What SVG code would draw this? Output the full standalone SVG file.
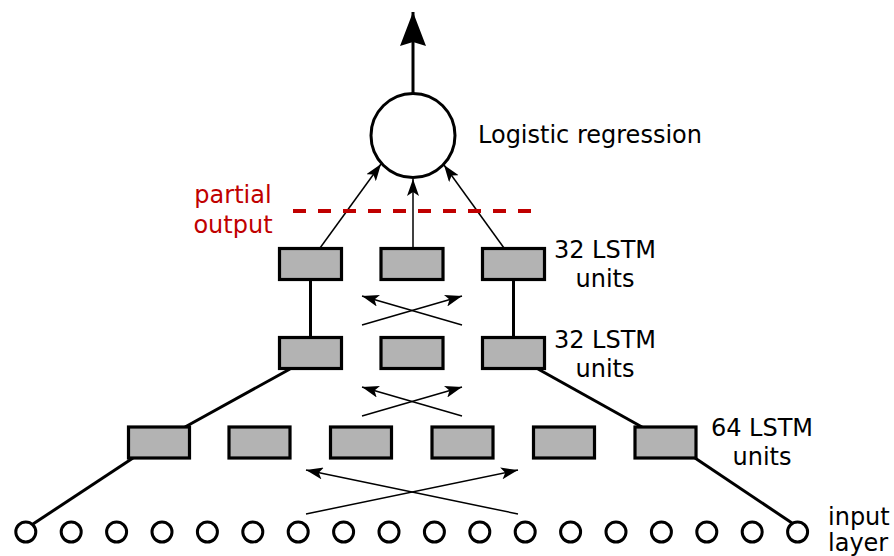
<svg xmlns="http://www.w3.org/2000/svg" width="894" height="556" viewBox="0 0 894 556">
  <style>
    .lbl { font-family: "DejaVu Sans", Verdana, sans-serif; font-size: 24px; fill: #000; }
    .red { fill: #c00000; }
    .cell { fill: #b3b3b3; stroke: #000; stroke-width: 3.2; }
    .inp { fill: #fff; stroke: #000; stroke-width: 3; }
    .thick { stroke: #000; stroke-width: 3; fill: none; }
    .thin { stroke: #000; stroke-width: 1.5; fill: none; marker-end: url(#tip); }
  </style>
  <defs>
    <marker id="tip" viewBox="0 0 17 12" refX="17" refY="6" markerWidth="17" markerHeight="12" markerUnits="userSpaceOnUse" orient="auto">
      <path d="M0,0 L17,6 L0,12 L4,6 Z" fill="#000"/>
    </marker>
    <marker id="bigtip" viewBox="0 0 34 26" refX="34" refY="13" markerWidth="34" markerHeight="26" markerUnits="userSpaceOnUse" orient="auto">
      <path d="M0,0 L34,13 L0,26 L4,13 Z" fill="#000"/>
    </marker>
  </defs>

  <!-- connectors -->
  <g id="connectors">
    <line x1="413" y1="93" x2="413" y2="12" stroke="#000" stroke-width="3" marker-end="url(#bigtip)"/>
    <line class="thin" x1="320" y1="248" x2="381" y2="164"/>
    <line class="thin" x1="413" y1="248" x2="413" y2="179"/>
    <line class="thin" x1="504" y1="248" x2="444" y2="165"/>
    <line class="thick" x1="310.5" y1="279" x2="310.5" y2="338"/>
    <line class="thick" x1="513.5" y1="279" x2="513.5" y2="338"/>
    <line class="thin" x1="362" y1="325" x2="462" y2="296"/>
    <line class="thin" x1="462" y1="325" x2="362" y2="296"/>
    <line class="thin" x1="362" y1="416" x2="462" y2="387"/>
    <line class="thin" x1="462" y1="416" x2="362" y2="387"/>
    <line class="thin" x1="306" y1="514" x2="518" y2="470"/>
    <line class="thin" x1="518" y1="514" x2="306" y2="470"/>
    <line class="thick" x1="185" y1="427" x2="290" y2="369"/>
    <line class="thick" x1="133" y1="458" x2="33" y2="524"/>
    <line class="thick" x1="538" y1="369" x2="642" y2="427"/>
    <line class="thick" x1="695" y1="458" x2="792" y2="523"/>
    <line x1="293" y1="211" x2="531" y2="211" stroke="#c00000" stroke-width="4" stroke-dasharray="13 12"/>
  </g>

  <!-- output unit -->
  <g id="logistic">
    <circle cx="413" cy="135.5" r="42" fill="#fff" stroke="#000" stroke-width="3"/>
    <text class="lbl" x="478" y="143">Logistic regression</text>
  </g>

  <g id="partial-output">
    <text class="lbl red" x="233" y="203" text-anchor="middle">partial</text>
    <text class="lbl red" x="233" y="233" text-anchor="middle">output</text>
  </g>

  <!-- LSTM layer 1 (32 units) -->
  <g id="lstm1">
    <rect class="cell" x="279.5" y="248.5" width="62" height="31"/>
    <rect class="cell" x="381" y="248.5" width="62" height="31"/>
    <rect class="cell" x="482.5" y="248.5" width="62" height="31"/>
    <text class="lbl" x="605" y="258" text-anchor="middle">32 LSTM</text>
    <text class="lbl" x="605" y="287" text-anchor="middle">units</text>
  </g>

  <!-- LSTM layer 2 (32 units) -->
  <g id="lstm2">
    <rect class="cell" x="279.5" y="337.5" width="62" height="31"/>
    <rect class="cell" x="381" y="337.5" width="62" height="31"/>
    <rect class="cell" x="482.5" y="337.5" width="62" height="31"/>
    <text class="lbl" x="605" y="348" text-anchor="middle">32 LSTM</text>
    <text class="lbl" x="605" y="377" text-anchor="middle">units</text>
  </g>

  <!-- LSTM layer 3 (64 units) -->
  <g id="lstm3">
    <rect class="cell" x="128.5" y="427" width="61" height="31"/>
    <rect class="cell" x="229" y="427" width="61" height="31"/>
    <rect class="cell" x="330.5" y="427" width="61" height="31"/>
    <rect class="cell" x="432" y="427" width="61" height="31"/>
    <rect class="cell" x="533.5" y="427" width="61" height="31"/>
    <rect class="cell" x="635" y="427" width="61" height="31"/>
    <text class="lbl" x="762" y="436" text-anchor="middle">64 LSTM</text>
    <text class="lbl" x="762" y="465" text-anchor="middle">units</text>
  </g>

  <!-- input layer -->
  <g id="input-layer">
    <circle class="inp" cx="25.8" cy="532" r="10"/>
    <circle class="inp" cx="71.2" cy="532" r="10"/>
    <circle class="inp" cx="116.6" cy="532" r="10"/>
    <circle class="inp" cx="162" cy="532" r="10"/>
    <circle class="inp" cx="207.4" cy="532" r="10"/>
    <circle class="inp" cx="252.8" cy="532" r="10"/>
    <circle class="inp" cx="298.2" cy="532" r="10"/>
    <circle class="inp" cx="343.6" cy="532" r="10"/>
    <circle class="inp" cx="389" cy="532" r="10"/>
    <circle class="inp" cx="434.4" cy="532" r="10"/>
    <circle class="inp" cx="479.8" cy="532" r="10"/>
    <circle class="inp" cx="525.2" cy="532" r="10"/>
    <circle class="inp" cx="570.6" cy="532" r="10"/>
    <circle class="inp" cx="616" cy="532" r="10"/>
    <circle class="inp" cx="661.4" cy="532" r="10"/>
    <circle class="inp" cx="706.8" cy="532" r="10"/>
    <circle class="inp" cx="752.2" cy="532" r="10"/>
    <circle class="inp" cx="797.6" cy="532" r="10"/>
    <text class="lbl" x="828" y="525">input</text>
    <text class="lbl" x="828" y="551">layer</text>
  </g>
</svg>
